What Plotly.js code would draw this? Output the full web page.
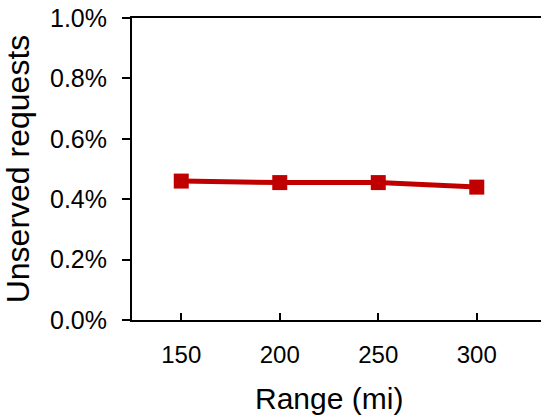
<!DOCTYPE html>
<html>
<head>
<meta charset="utf-8">
<script src="https://cdn.plot.ly/plotly-3.0.1.min.js"></script>
<style>html,body{margin:0;padding:0;background:#fff;}#chart{width:541px;height:417px;}</style>
</head>
<body>
<div id="chart"></div>
<script>
const ranges = [150, 200, 250, 300];
const unserved = [0.0046, 0.00455, 0.00455, 0.0044];
const yTickVals = [0, 0.002, 0.004, 0.006, 0.008, 0.010];

const FONT = 'Liberation Sans, Arial, Helvetica, sans-serif';
const RED = '#C00000';

Plotly.newPlot('chart', [{
  x: ranges,
  y: unserved,
  type: 'scatter',
  mode: 'lines+markers',
  line: {color: RED, width: 5},
  marker: {symbol: 'square', size: 15, color: RED},
  hoverinfo: 'skip'
}], {
  width: 541,
  height: 417,
  margin: {l: 132, r: 0, t: 18, b: 97, pad: 0},
  paper_bgcolor: '#fff',
  plot_bgcolor: '#fff',
  showlegend: false,
  font: {family: FONT, color: '#000', size: 24},
  xaxis: {
    range: [125, 332.6],
    tickvals: ranges,
    ticktext: ranges.map(String),
    ticks: 'inside',
    ticklen: 7,
    tickwidth: 2,
    tickcolor: '#000',
    showline: true,
    linecolor: '#000',
    linewidth: 2,
    mirror: true,
    showgrid: false,
    zeroline: false,
    ticklabelstandoff: 12,
    tickfont: {family: FONT, size: 24, color: '#000'}
  },
  yaxis: {
    range: [0, 0.010],
    tickvals: yTickVals,
    tickformat: '.1%',
    ticks: 'outside',
    ticklen: 8,
    tickwidth: 2,
    tickcolor: '#000',
    showline: true,
    linecolor: '#000',
    linewidth: 2,
    showgrid: false,
    zeroline: false,
    ticklabelstandoff: 10,
    tickfont: {family: FONT, size: 25, color: '#000'},
    title: {text: 'Unserved requests', font: {family: FONT, size: 32, color: '#000'}, standoff: 16}
  },
  annotations: [{
    text: 'Range (mi)',
    xref: 'paper', yref: 'paper',
    x: (329 - 132) / (541 - 132), y: -0.2,
    xanchor: 'center', yanchor: 'top',
    showarrow: false,
    font: {family: FONT, size: 30, color: '#000'}
  }]
}, {displayModeBar: false, staticPlot: true});
</script>
</body>
</html>
